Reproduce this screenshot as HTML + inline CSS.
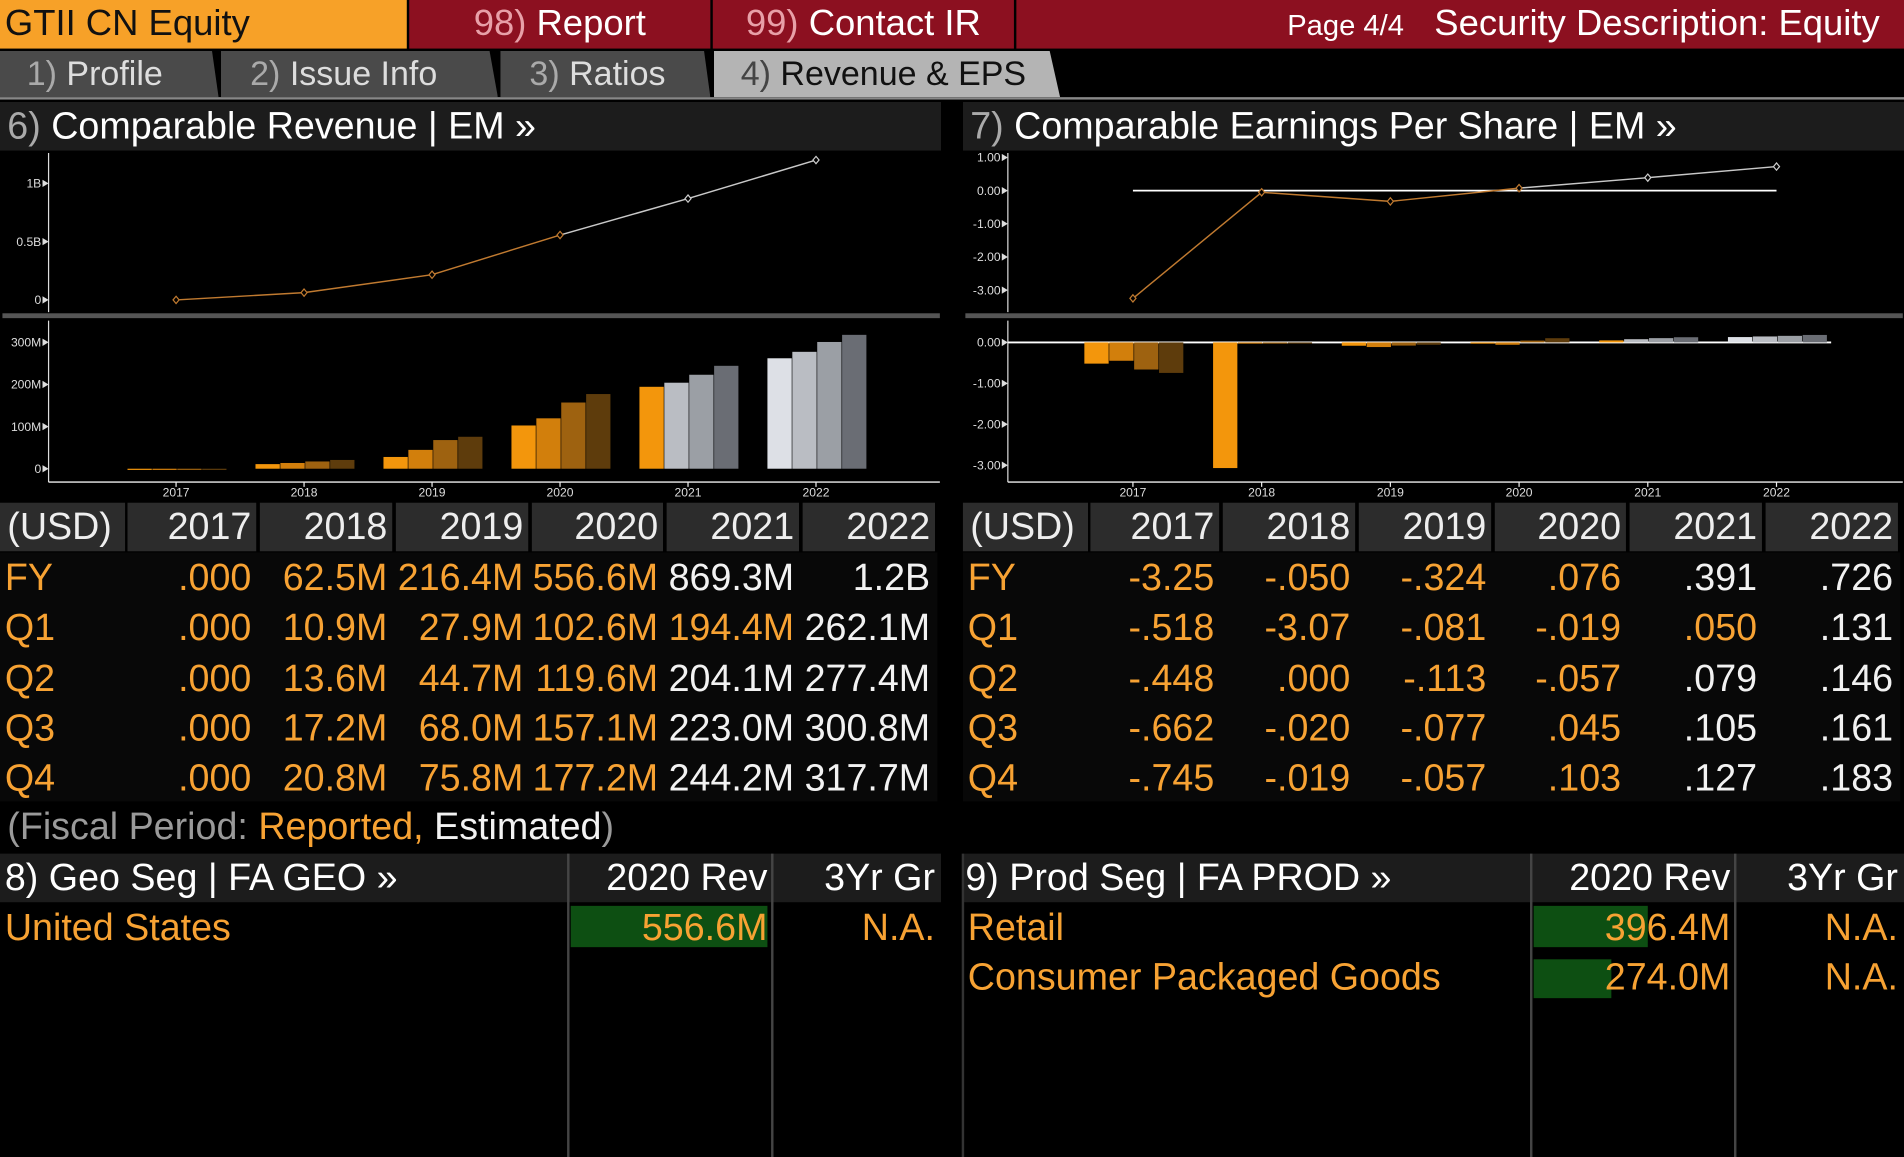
<!DOCTYPE html>
<html><head><meta charset="utf-8">
<style>
html,body{margin:0;padding:0;background:#000;width:1904px;height:1157px;overflow:hidden}
#root{position:absolute;left:0;top:0;width:1568px;height:953px;transform:scale(1.21429);transform-origin:0 0;background:#000;font-family:"Liberation Sans Narrow","Liberation Sans",sans-serif;color:#fff}
.a{position:absolute;white-space:nowrap}
.or{color:#f7a233}.wh{color:#f2f2f2}.gr{color:#9a9a9a}
.tab{position:absolute;top:42px;height:38px;background:#4a4a4a;color:#ddd;font-size:28px;line-height:38px;clip-path:polygon(0 0,97% 0,100% 100%,0 100%)}
.hdr{position:absolute;height:40px;background:#1c1c1c;font-size:31px;line-height:40px}
.th{position:absolute;top:414px;height:40px;background:#2c2c2c;font-size:31px;line-height:40px;text-align:right;padding-right:4px;box-sizing:border-box;color:#eee}
.cell{position:absolute;height:41px;font-size:31px;line-height:41px;text-align:right;box-sizing:border-box;padding-right:4px}
</style></head><body>
<div id="root">
<div class="a" style="left:0;top:0;width:335px;height:40px;background:#f7a128;color:#111;font-size:30px;line-height:40px;padding-left:4px;box-sizing:border-box">GTII CN Equity</div>
<div class="a" style="left:337px;top:0;width:248px;height:40px;background:#8c1020;font-size:30px;line-height:40px;text-align:center"><span style="color:#e8a0a8">98)</span> Report</div>
<div class="a" style="left:587px;top:0;width:248px;height:40px;background:#8c1020;font-size:30px;line-height:40px;text-align:center"><span style="color:#e8a0a8">99)</span> Contact IR</div>
<div class="a" style="left:837px;top:0;width:731px;height:40px;background:#8c1020;font-size:30px;line-height:40px;text-align:right;padding-right:20px;box-sizing:border-box"><span style="font-size:24px">Page 4/4</span>&nbsp;&nbsp; Security Description: Equity</div>

<div class="tab" style="left:0;width:180px;padding-left:22px;box-sizing:border-box"><span style="color:#aaa">1)</span> Profile</div>
<div class="tab" style="left:182px;width:228px;padding-left:24px;box-sizing:border-box"><span style="color:#aaa">2)</span> Issue Info</div>
<div class="tab" style="left:412px;width:173px;padding-left:24px;box-sizing:border-box"><span style="color:#aaa">3)</span> Ratios</div>
<div class="tab" style="left:588px;width:285px;padding-left:22px;box-sizing:border-box;background:#b4b4b4;color:#111"><span style="color:#444">4)</span> Revenue &amp; EPS</div>
<div class="a" style="left:0;top:80px;width:1568px;height:2px;background:#888"></div>

<div class="hdr" style="left:0;top:84px;width:775px;padding-left:6px;box-sizing:border-box"><span style="color:#aaa">6)</span> Comparable Revenue | EM »</div>
<div class="hdr" style="left:793px;top:84px;width:775px;padding-left:6px;box-sizing:border-box"><span style="color:#aaa">7)</span> Comparable Earnings Per Share | EM »</div>

<svg id="charts" style="position:absolute;left:0;top:124px" width="1568" height="290" viewBox="0 124 1568 290"></svg>

<div id="tables"></div>

<div class="a" style="left:6px;top:661px;font-size:31px;line-height:40px"><span class="gr">(Fiscal Period: </span><span class="or">Reported,</span> <span class="wh">Estimated</span><span class="gr">)</span></div>

<!-- segments -->
<div class="hdr" style="left:0;top:703px;width:775px;padding-left:4px;box-sizing:border-box">8) Geo Seg | FA GEO »</div>
<div class="a" style="left:470px;top:703px;width:162px;font-size:31px;line-height:40px;text-align:right">2020 Rev</div>
<div class="a" style="left:640px;top:703px;width:130px;font-size:31px;line-height:40px;text-align:right">3Yr Gr</div>
<div class="a" style="left:467px;top:703px;width:2px;height:250px;background:#444"></div>
<div class="a" style="left:635px;top:703px;width:2px;height:250px;background:#444"></div>
<div class="a or" style="left:4px;top:744px;font-size:31px;line-height:40px">United States</div>
<div class="a" style="left:470px;top:746px;width:162px;height:34px;background:#0d4f12"></div>
<div class="a or" style="left:470px;top:744px;width:162px;font-size:31px;line-height:40px;text-align:right">556.6M</div>
<div class="a or" style="left:640px;top:744px;width:130px;font-size:31px;line-height:40px;text-align:right">N.A.</div>

<div class="hdr" style="left:793px;top:703px;width:775px;padding-left:2px;box-sizing:border-box">9) Prod Seg | FA PROD »</div>
<div class="a" style="left:1263px;top:703px;width:162px;font-size:31px;line-height:40px;text-align:right">2020 Rev</div>
<div class="a" style="left:1432px;top:703px;width:131px;font-size:31px;line-height:40px;text-align:right">3Yr Gr</div>
<div class="a" style="left:1260px;top:703px;width:2px;height:250px;background:#444"></div>
<div class="a" style="left:1428px;top:703px;width:2px;height:250px;background:#444"></div>
<div class="a or" style="left:797px;top:744px;font-size:31px;line-height:40px">Retail</div>
<div class="a" style="left:1263px;top:746px;width:94px;height:34px;background:#0d4f12"></div>
<div class="a or" style="left:1263px;top:744px;width:162px;font-size:31px;line-height:40px;text-align:right">396.4M</div>
<div class="a or" style="left:1432px;top:744px;width:131px;font-size:31px;line-height:40px;text-align:right">N.A.</div>
<div class="a or" style="left:797px;top:785px;font-size:31px;line-height:40px">Consumer Packaged Goods</div>
<div class="a" style="left:1263px;top:790px;width:64px;height:32px;background:#0d4f12"></div>
<div class="a or" style="left:1263px;top:785px;width:162px;font-size:31px;line-height:40px;text-align:right">274.0M</div>
<div class="a or" style="left:1432px;top:785px;width:131px;font-size:31px;line-height:40px;text-align:right">N.A.</div>
<div class="a" style="left:775px;top:84px;width:18px;height:869px;background:#000"></div>
<div class="a" style="left:792px;top:703px;width:2px;height:250px;background:#333"></div>
</div>

<script>
// ---- data ----
const years = ["2017","2018","2019","2020","2021","2022"];
const revFY = [0, 62.5e6, 216.4e6, 556.6e6, 869.3e6, 1.2e9];
const revQ1 = [0, 10.9e6, 27.9e6, 102.6e6, 194.4e6, 262.1e6];
const revQ2 = [0, 13.6e6, 44.7e6, 119.6e6, 204.1e6, 277.4e6];
const revQ3 = [0, 17.2e6, 68.0e6, 157.1e6, 223.0e6, 300.8e6];
const revQ4 = [0, 20.8e6, 75.8e6, 177.2e6, 244.2e6, 317.7e6];
const epsFY = [-3.25, -0.050, -0.324, 0.076, 0.391, 0.726];
const epsQ1 = [-0.518, -3.07, -0.081, -0.019, 0.050, 0.131];
const epsQ2 = [-0.448, 0.000, -0.113, -0.057, 0.079, 0.146];
const epsQ3 = [-0.662, -0.020, -0.077, 0.045, 0.105, 0.161];
const epsQ4 = [-0.745, -0.019, -0.057, 0.103, 0.127, 0.183];
const revFYLabels = [".000","62.5M","216.4M","556.6M","869.3M","1.2B"];
const revQ1Labels = [".000","10.9M","27.9M","102.6M","194.4M","262.1M"];
const revQ2Labels = [".000","13.6M","44.7M","119.6M","204.1M","277.4M"];
const revQ3Labels = [".000","17.2M","68.0M","157.1M","223.0M","300.8M"];
const revQ4Labels = [".000","20.8M","75.8M","177.2M","244.2M","317.7M"];
const epsFYLabels = ["-3.25","-.050","-.324",".076",".391",".726"];
const epsQ1Labels = ["-.518","-3.07","-.081","-.019",".050",".131"];
const epsQ2Labels = ["-.448",".000","-.113","-.057",".079",".146"];
const epsQ3Labels = ["-.662","-.020","-.077",".045",".105",".161"];
const epsQ4Labels = ["-.745","-.019","-.057",".103",".127",".183"];
// number of reported quarters per year (rest estimated)
const reportedQuarters = [4, 4, 4, 4, 1, 0];
const revTopTicks = [0, 0.5e9, 1e9];
const revTopTickLabels = ["0", "0.5B", "1B"];
const revBotTicks = [0, 100e6, 200e6, 300e6];
const revBotTickLabels = ["0", "100M", "200M", "300M"];
const epsTopTicks = [1, 0, -1, -2, -3];
const epsTopTickLabels = ["1.00", "0.00", "-1.00", "-2.00", "-3.00"];
const epsBotTicks = [0, -1, -2, -3];
const epsBotTickLabels = ["0.00", "-1.00", "-2.00", "-3.00"];

const NS = "http://www.w3.org/2000/svg";
const svg = document.getElementById("charts");
const repCols = ["#f3960c", "#d27f0c", "#9e6210", "#5e3c0c"];
const estCols = ["#dde0e6", "#babdc3", "#9b9fa5", "#6a6d74"];
function mk(tag, attrs, parent) {
  const e = document.createElementNS(NS, tag);
  for (const k in attrs) e.setAttribute(k, attrs[k]);
  (parent || svg).appendChild(e);
  return e;
}
function drawPanel(o) {
  const g = mk("g", {});
  
  
  const x = i => o.x0 + i * o.dx;
  // separator
  const sep = mk("rect", {x: o.left, y: 258, width: o.width, height: 4, fill: "#555"}, g);
  
  
  // axes
  mk("line", {x1: o.ax, y1: 126, x2: o.ax, y2: 257, stroke: "#ddd", "stroke-width": 1}, g);
  mk("line", {x1: o.ax, y1: 264, x2: o.ax, y2: 397, stroke: "#ddd", "stroke-width": 1}, g);
  mk("line", {x1: o.ax, y1: 397, x2: o.left + o.width, y2: 397, stroke: "#eee", "stroke-width": 1.2}, g);
  const tick = (vals, labs, yf) => vals.forEach((v, i) => {
    const y = yf(v);
    mk("path", {d: `M${o.ax - 5} ${y - 3} L${o.ax} ${y} L${o.ax - 5} ${y + 3}Z`, fill: "#ddd"}, g);
    const t = mk("text", {x: o.ax - 6, y: y + 3.5, "text-anchor": "end", "font-size": 10, fill: "#ddd"}, g);
    t.textContent = labs[i];
    
    
  });
  tick(o.topTicks, o.topLabels, o.yTop);
  tick(o.botTicks, o.botLabels, o.yBot);
  years.forEach((yr, i) => {
    mk("line", {x1: x(i), y1: 397, x2: x(i), y2: 401, stroke: "#eee"}, g);
    const t = mk("text", {x: x(i), y: 409, "text-anchor": "middle", "font-size": 10, fill: "#ddd"}, g);
    t.textContent = yr;
    
    
  });
  if (o.zeroLine) {
    mk("line", {x1: x(0), y1: o.yTop(0), x2: x(5), y2: o.yTop(0), stroke: "#fff", "stroke-width": 1.5}, g);
    mk("line", {x1: o.ax, y1: o.yBot(0), x2: x(5) + 45, y2: o.yBot(0), stroke: "#fff", "stroke-width": 1.5}, g);
  }
  // bars
  const qs = [o.q1, o.q2, o.q3, o.q4];
  years.forEach((yr, i) => {
    qs.forEach((arr, q) => {
      const v = arr[i];
      const y0 = o.yBot(0), y1 = o.yBot(v);
      const bx = x(i) - 40 + q * 20.5;
      const r = mk("rect", {x: bx, y: Math.min(y0, y1), width: 20, height: Math.max(1, Math.abs(y1 - y0)),
        fill: q < reportedQuarters[i] ? repCols[q] : estCols[q]}, g);
      
      
    });
  });
  // line
  for (let i = 0; i < years.length - 1; i++) {
    const est = i >= 3;
    mk("line", {x1: x(i), y1: o.yTop(o.fy[i]), x2: x(i + 1), y2: o.yTop(o.fy[i + 1]),
      stroke: est ? "#c8c8c8" : "#c07a30", "stroke-width": 1.2}, g);
  }
  o.fy.forEach((v, i) => {
    const cx = x(i), cy = o.yTop(v);
    const p = mk("path", {d: `M${cx} ${cy - 3} L${cx + 2.5} ${cy} L${cx} ${cy + 3} L${cx - 2.5} ${cy}Z`,
      fill: "#000", stroke: i >= 4 ? "#ccc" : "#c07a30", "stroke-width": 1}, g);
    
    
  });
}
drawPanel({name: "revenue-chart", left: 2, width: 772, ax: 40, x0: 145, dx: 105.4,
  yTop: v => 247 - v / 1e9 * 96, yBot: v => 386 - v / 1e6 * 0.347,
  topTicks: revTopTicks, topLabels: revTopTickLabels, botTicks: revBotTicks, botLabels: revBotTickLabels,
  fy: revFY, q1: revQ1, q2: revQ2, q3: revQ3, q4: revQ4, zeroLine: false});
drawPanel({name: "eps-chart", left: 795, width: 772, ax: 830, x0: 933, dx: 106,
  yTop: v => 157 - v * 27.3, yBot: v => 282 - v * 33.7,
  topTicks: epsTopTicks, topLabels: epsTopTickLabels, botTicks: epsBotTicks, botLabels: epsBotTickLabels,
  fy: epsFY, q1: epsQ1, q2: epsQ2, q3: epsQ3, q4: epsQ4, zeroLine: true});

// tables
const root = document.getElementById("root");
function table(left, name, rows) {
  const colL = [0, 105, 214, 326, 438, 549, 661], colR = [103, 211, 323, 435, 546, 658, 770];
  const bg = document.createElement("div");
  bg.className = "a";
  bg.style.cssText = `left:${left}px;top:455px;width:772px;height:205px;background:#080808`;
  
  
  root.appendChild(bg);
  for (let c = 0; c < 7; c++) {
    const d = document.createElement("div");
    d.className = "th";
    d.style.left = (left + colL[c]) + "px";
    d.style.width = (colR[c] - colL[c]) + "px";
    if (c === 0) { d.style.textAlign = "left"; d.style.paddingLeft = "6px"; }
    d.textContent = c === 0 ? "(USD)" : years[c - 1];
    
    
    root.appendChild(d);
  }
  const names = ["FY", "Q1", "Q2", "Q3", "Q4"];
  rows.forEach((labs, r) => {
    const top = 455 + r * 41.3;
    const l = document.createElement("div");
    l.className = "cell or";
    l.style.cssText = `left:${left + 4}px;top:${top}px;text-align:left`;
    l.textContent = names[r];
    
    
    root.appendChild(l);
    labs.forEach((t, i) => {
      const reported = r === 0 ? i <= 3 : (r <= reportedQuarters[i]);
      const d = document.createElement("div");
      d.className = "cell " + (reported ? "or" : "wh");
      d.style.left = (left + colL[i + 1] - 10) + "px";
      d.style.width = (colR[i + 1] - colL[i + 1] + 10) + "px";
      d.style.top = top + "px";
      d.textContent = t;
      
      
      root.appendChild(d);
    });
  });
}
table(0, "revenue-table", [revFYLabels, revQ1Labels, revQ2Labels, revQ3Labels, revQ4Labels]);
table(793, "eps-table", [epsFYLabels, epsQ1Labels, epsQ2Labels, epsQ3Labels, epsQ4Labels]);
</script>
</body></html>
